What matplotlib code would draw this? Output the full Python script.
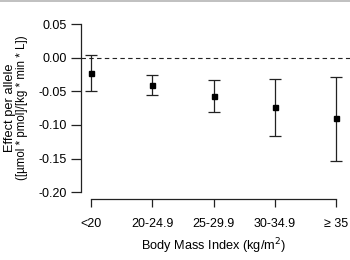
import numpy as np
import matplotlib
matplotlib.use('Agg')
import matplotlib.pyplot as plt
from matplotlib.lines import Line2D

plt.rcParams['font.family'] = ['Liberation Sans', 'DejaVu Sans']
plt.rcParams['axes.unicode_minus'] = False

# values
bmi_groups = ['<20', '20-24.9', '25-29.9', '30-34.9', '\u2265 35']
effect = [-0.023, -0.040, -0.057, -0.073, -0.090]
ci_low = [-0.049, -0.055, -0.081, -0.116, -0.153]
ci_high = [0.004, -0.025, -0.033, -0.032, -0.029]
yticks = [0.05, 0.00, -0.05, -0.10, -0.15, -0.20]

x = np.arange(1, len(bmi_groups) + 1)
eff = np.array(effect)
err = [eff - np.array(ci_low), np.array(ci_high) - eff]

fig = plt.figure(figsize=(3.5, 2.6), dpi=100)
ax = fig.add_axes([81/350, 61/260, 1 - 81/350, 185/260])

ax.axhline(0, color='#222222', lw=0.8, ls=(0, (4, 3)), zorder=1)
ax.errorbar(x, eff, yerr=err, fmt='s', color='black', ecolor='#222222',
            ms=3.6, elinewidth=0.9, capsize=4, capthick=0.9, zorder=3)

ax.set_xlim(0.842, 5.223)
ax.set_ylim(-0.21, 0.0649)

for s in ['top', 'right']:
    ax.spines[s].set_visible(False)
ax.spines['left'].set_bounds(-0.20, 0.05)
ax.spines['bottom'].set_bounds(1, 5)
for s in ['left', 'bottom']:
    ax.spines[s].set_linewidth(0.9)
    ax.spines[s].set_color('#222222')

ax.set_yticks(yticks)
ax.set_yticklabels(['%.2f' % v for v in yticks])
ax.set_xticks(x)
ax.set_xticklabels(bmi_groups)
ax.tick_params(axis='y', length=7.5, width=0.9, pad=2.5, labelsize=9, color='#222222')
ax.tick_params(axis='x', length=5.5, width=0.9, pad=8.5, labelsize=9, color='#222222')

ax.set_xlabel('Body Mass Index (kg/m$^2$)', fontsize=9.2, labelpad=8)
ax.xaxis.set_label_coords((3 - 0.842) / (5.223 - 0.842), -0.2)

fig.text(10/350, 0.585, 'Effect per allele', rotation=90, ha='center', va='center', fontsize=9.3)
fig.text(22/350, 0.585, '([\u00b5mol * pmol]/[kg * min * L])', rotation=90,
         ha='center', va='center', fontsize=8.3)

fig.add_artist(Line2D([0, 1], [0.997, 0.997], transform=fig.transFigure, color='#b5b5b5', lw=1.2))

fig.savefig('out.png', dpi=100)
